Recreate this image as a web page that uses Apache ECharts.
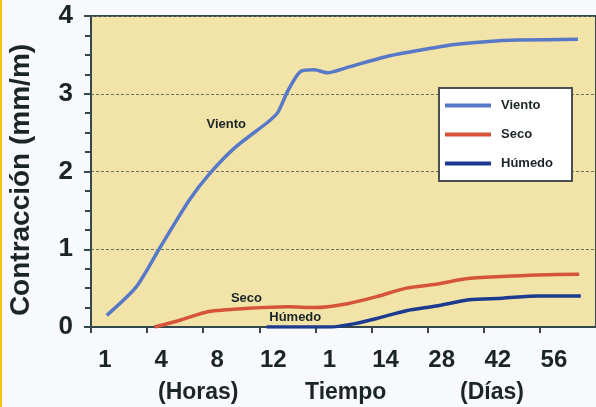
<!DOCTYPE html>
<html>
<head>
<meta charset="utf-8">
<script src="https://cdn.jsdelivr.net/npm/echarts@6/dist/echarts.min.js"></script>
<style>
html,body{margin:0;padding:0;background:#f8f9fc;}
#wrap{position:relative;width:596px;height:407px;}
#bar{position:absolute;left:0;top:0;width:2px;height:407px;background:#f3c316;z-index:2;}
#chart{position:absolute;left:0;top:0;width:596px;height:407px;}
</style>
</head>
<body>
<div id="wrap"><div id="chart"></div><div id="bar"></div></div>
<script>
// Time categories (hours 1..12, then days 1..56)
const categories = ['1', '4', '8', '12', '1', '14', '28', '42', '56'];
const yTicks = [0, 1, 2, 3, 4];
// x in category-band units (0 = axis origin, 1 = first tick), y in mm/m
const vientoX = [0.28, 0.81, 1.22, 1.75, 2.10, 2.57, 3.16, 3.33, 3.51, 3.74, 3.98, 4.21, 4.57, 5.27, 5.86, 6.44, 7.03, 7.62, 8.68];
const vientoY = [0.15, 0.52, 1.01, 1.63, 1.96, 2.31, 2.64, 2.76, 3.04, 3.29, 3.31, 3.27, 3.34, 3.48, 3.56, 3.63, 3.67, 3.69, 3.70];
const secoX = [1.13, 1.60, 2.10, 2.80, 3.51, 3.98, 4.57, 5.09, 5.62, 6.15, 6.68, 7.33, 7.97, 8.70];
const secoY = [0.00, 0.09, 0.20, 0.24, 0.26, 0.25, 0.30, 0.39, 0.50, 0.55, 0.62, 0.65, 0.67, 0.68];
const humedoX = [3.13, 3.51, 4.27, 4.68, 5.09, 5.62, 6.15, 6.74, 7.33, 7.97, 8.73];
const humedoY = [0.00, 0.00, 0.00, 0.04, 0.11, 0.21, 0.27, 0.35, 0.37, 0.40, 0.40];
const seriesNames = ['Viento', 'Seco', 'Húmedo'];

const zip = (xs, ys) => xs.map((x, i) => [x, ys[i]]);
const FONT = '"Liberation Sans", Arial, sans-serif';
const DARK = '#1b2527';
const AXIS = '#34474f';

const chart = echarts.init(document.getElementById('chart'), null, {renderer: 'canvas'});
const annot = (name, coord) => ({
  symbol: 'circle', symbolSize: 0,
  label: {show: true, formatter: name, position: 'inside', color: DARK, fontFamily: FONT, fontWeight: 'bold', fontSize: 13},
  data: [{coord: coord}]
});
chart.setOption({
  animation: false,
  backgroundColor: 'transparent',
  grid: {left: 91, top: 16, bottom: 80, right: -6, show: true, backgroundColor: '#f2e3a9', borderColor: AXIS, borderWidth: 2},
  xAxis: {
    type: 'value', min: 0, max: 9, interval: 1,
    axisLine: {show: true, lineStyle: {color: AXIS, width: 2}},
    axisTick: {show: true, length: 6, lineStyle: {color: AXIS, width: 2}},
    splitLine: {show: false},
    axisLabel: {
      formatter: v => (Number.isInteger(v) && categories[v] !== undefined) ? categories[v] : '',
      padding: [0, 0, 0, 28], margin: 21,
      color: DARK, fontFamily: FONT, fontWeight: 'bold', fontSize: 24,
      showMaxLabel: false
    }
  },
  yAxis: {
    type: 'value', min: yTicks[0], max: yTicks[yTicks.length - 1], interval: 1,
    axisLine: {show: true, lineStyle: {color: AXIS, width: 2}},
    axisTick: {show: true, length: 7, lineStyle: {color: AXIS, width: 2}},
    minorTick: {show: true, splitNumber: 4, length: 6, lineStyle: {color: AXIS, width: 2}},
    splitLine: {show: true, lineStyle: {color: '#6d7466', type: [3, 2], width: 1}},
    axisLabel: {margin: 18, color: DARK, fontFamily: FONT, fontWeight: 'bold', fontSize: 26}
  },
  legend: {
    orient: 'vertical', left: 439, top: 88,
    data: seriesNames.map(n => ({name: n, icon: 'rect'})),
    itemWidth: 46, itemHeight: 4, itemGap: 16,
    padding: [11, 19, 11, 6],
    backgroundColor: '#ffffff', borderColor: '#4a4f52', borderWidth: 2,
    textStyle: {color: DARK, fontFamily: FONT, fontWeight: 'bold', fontSize: 13, padding: [0, 0, 0, 5]}
  },
  series: [
    {name: seriesNames[0], type: 'line', data: zip(vientoX, vientoY), smooth: 0.25, showSymbol: false,
     lineStyle: {color: '#5878c8', width: 3.5}, itemStyle: {color: '#5878c8'},
     markPoint: annot('Viento', [2.41, 2.61])},
    {name: seriesNames[1], type: 'line', data: zip(secoX, secoY), smooth: 0.25, showSymbol: false,
     lineStyle: {color: '#d5543a', width: 3.5}, itemStyle: {color: '#d5543a'},
     markPoint: annot('Seco', [2.77, 0.373])},
    {name: seriesNames[2], type: 'line', data: zip(humedoX, humedoY), smooth: 0.25, showSymbol: false,
     lineStyle: {color: '#1c3b8e', width: 3.5}, itemStyle: {color: '#1c3b8e'},
     markPoint: annot('Húmedo', [3.64, 0.129])}
  ],
  graphic: [
    {type: 'text', x: 21, y: 180, rotation: Math.PI / 2,
     style: {text: 'Contracción (mm/m)', fill: DARK, font: 'bold 28px ' + FONT, textAlign: 'center', textVerticalAlign: 'middle'}},
    {type: 'text', left: 158, top: 381, style: {text: '(Horas)', fill: DARK, font: 'bold 23px ' + FONT}},
    {type: 'text', left: 305, top: 381, style: {text: 'Tiempo', fill: DARK, font: 'bold 23px ' + FONT}},
    {type: 'text', left: 460, top: 381, style: {text: '(Días)', fill: DARK, font: 'bold 23px ' + FONT}}
  ]
});
</script>
</body>
</html>
